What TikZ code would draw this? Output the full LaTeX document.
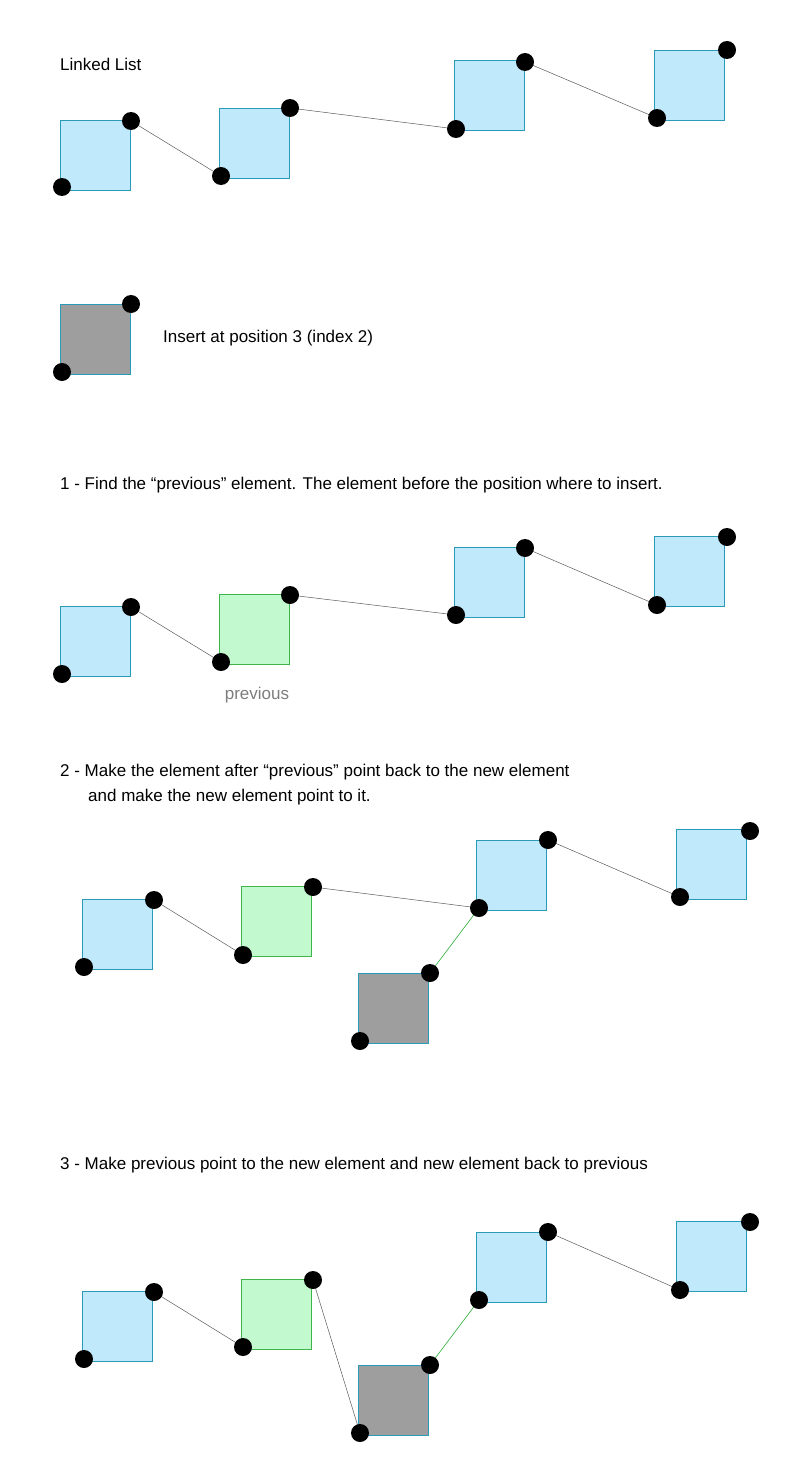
\documentclass[tikz,border=0pt]{standalone}
\usepackage{fontspec}
\setmainfont{Liberation Sans}
\usetikzlibrary{backgrounds}
\definecolor{bline}{RGB}{42,154,184}
\definecolor{bfill}{RGB}{192,234,251}
\definecolor{gline}{RGB}{61,181,74}
\definecolor{gfill}{RGB}{194,249,206}
\definecolor{grfill}{RGB}{158,158,158}
\definecolor{lk}{RGB}{90,90,90}
\definecolor{ptxt}{RGB}{125,125,125}
\begin{document}
\begin{tikzpicture}[x=1pt,y=-1pt,
  sq/.style={draw=#1,line width=0.7pt,minimum size=70pt,inner sep=0pt,anchor=north west},
  blue/.style={sq=bline,fill=bfill},
  green/.style={sq=gline,fill=gfill},
  gray/.style={sq=bline,fill=grfill},
  dot/.style={circle,fill=black,minimum size=18pt,inner sep=0pt},
  link/.style={draw=lk,line width=0.5pt},
  glink/.style={draw=gline,line width=0.7pt},
  txt/.style={anchor=west,inner sep=0pt,font=\fontsize{17}{20}\selectfont}]
\useasboundingbox (0,0) rectangle (791,1469);
% --- Linked list
\node[txt] (t0) at (60,64) {Linked List};
\node[blue] (a0) at (60,120) {}; \node[blue] (b0) at (219,108) {};
\node[blue] (c0) at (454,60) {}; \node[blue] (d0) at (654,50) {};
\foreach \n/\x/\y in {a0t/131/121,a0b/62/187,b0t/290/108,b0b/221/176,c0t/525/62,c0b/456/129,d0t/727/50,d0b/657/118}
  \node[dot] (\n) at (\x,\y) {};
\begin{scope}[on background layer]
\draw[link] (a0t.center) -- (b0b.center) (b0t.center) -- (c0b.center) (c0t.center) -- (d0b.center);
\end{scope}
% --- new element
\node[gray] (g0) at (60,304) {};
\node[dot] (g0t) at (131,304) {}; \node[dot] (g0b) at (62,372) {};
\node[txt] (t1) at (163,338) {Insert at position 3 (index 2)};
% --- step 1
\node[txt] (t2) at (60,485) {1 - Find the “previous” element. The element before the position where to insert.};
\node[blue] (a1) at (60,606) {}; \node[green] (b1) at (219,594) {};
\node[blue] (c1) at (454,547) {}; \node[blue] (d1) at (654,536) {};
\foreach \n/\x/\y in {a1t/131/607,a1b/62/674,b1t/290/595,b1b/221/662,c1t/525/548,c1b/456/615,d1t/727/537,d1b/657/605}
  \node[dot] (\n) at (\x,\y) {};
\begin{scope}[on background layer]
\draw[link] (a1t.center) -- (b1b.center) (b1t.center) -- (c1b.center) (c1t.center) -- (d1b.center);
\end{scope}
\node[txt,anchor=center,text=ptxt] (p1) at (257,695) {previous};
% --- step 2
\node[txt] (t3) at (60,772) {2 - Make the element after “previous” point back to the new element};
\node[txt] (t4) at (88,797) {and make the new element point to it.};
\node[blue] (a2) at (82,899) {}; \node[green] (b2) at (241,886) {};
\node[blue] (c2) at (476,840) {}; \node[blue] (d2) at (676,829) {};
\node[gray] (g2) at (358,973) {};
\foreach \n/\x/\y in {a2t/154/900,a2b/84/967,b2t/313/887,b2b/243/955,c2t/548/840,c2b/479/908,d2t/750/831,d2b/680/897,g2t/430/973,g2b/360/1041}
  \node[dot] (\n) at (\x,\y) {};
\begin{scope}[on background layer]
\draw[link] (a2t.center) -- (b2b.center) (b2t.center) -- (c2b.center) (c2t.center) -- (d2b.center);
\draw[glink] (g2t.center) -- (c2b.center);
\end{scope}
% --- step 3
\node[txt] (t5) at (60,1165) {3 - Make previous point to the new element and new element back to previous};
\node[blue] (a3) at (82,1291) {}; \node[green] (b3) at (241,1279) {};
\node[blue] (c3) at (476,1232) {}; \node[blue] (d3) at (676,1221) {};
\node[gray] (g3) at (358,1365) {};
\foreach \n/\x/\y in {a3t/154/1292,a3b/84/1359,b3t/313/1280,b3b/243/1347,c3t/548/1232,c3b/479/1300,d3t/750/1222,d3b/680/1290,g3t/430/1365,g3b/360/1433}
  \node[dot] (\n) at (\x,\y) {};
\begin{scope}[on background layer]
\draw[link] (a3t.center) -- (b3b.center) (b3t.center) -- (g3b.center) (c3t.center) -- (d3b.center);
\draw[glink] (g3t.center) -- (c3b.center);
\end{scope}
\end{tikzpicture}
\end{document}
